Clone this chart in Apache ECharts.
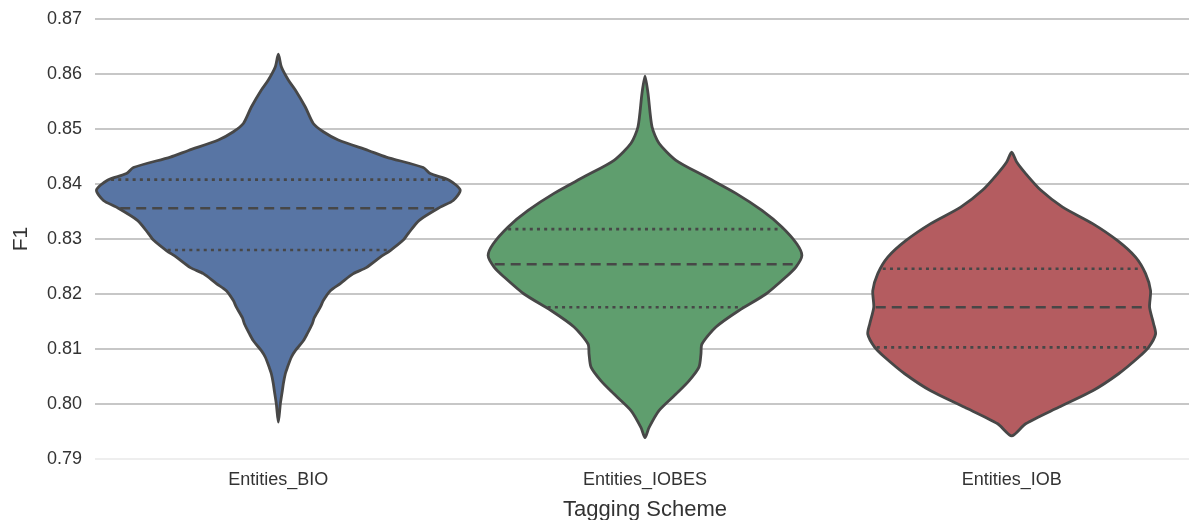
<!DOCTYPE html>
<html>
<head>
<meta charset="utf-8">
<script src="https://cdn.jsdelivr.net/npm/echarts@6/dist/echarts.min.js"></script>
<style>
html,body{margin:0;padding:0;background:#fff;}
#chart{width:1189px;height:520px;}
</style>
</head>
<body>
<div id="chart"></div>
<script>
// ---- data ----
const categories = ['Entities_BIO', 'Entities_IOBES', 'Entities_IOB'];
const yTicks = [0.79, 0.80, 0.81, 0.82, 0.83, 0.84, 0.85, 0.86, 0.87];

// Kernel density profiles: F1 values and relative density (BIO peak ≈ 182)
const bioF1 = [0.8636,0.8613,0.8589,0.8571,0.8540,0.8510,0.8495,0.8480,0.8461,0.8449,0.8430,0.8419,0.8407,0.8389,0.8370,0.8358,0.8334,0.8310,0.8298,0.8279,0.8267,0.8248,0.8237,0.8219,0.8206,0.8188,0.8176,0.8157,0.8146,0.8128,0.8115,0.8097,0.8085,0.8066,0.8055,0.8037,0.8024,0.8000,0.7967];
const bioDensity = [0,3,10,17,27,35,45,60,90,108,145,152,171,182,175,162,141,130,125,112,102,88,75,62,52,45,42,36,34,29,25,17,13,9,7,5,4,2,0];

const iobesF1 = [0.8596,0.8565,0.8504,0.8474,0.8443,0.8413,0.8383,0.8352,0.8322,0.8291,0.8270,0.8249,0.8231,0.8200,0.8170,0.8140,0.8109,0.8091,0.8067,0.8042,0.8018,0.7988,0.7957,0.7939];
const iobesDensity = [0,3,7,14,31,61,91,117,137,152,157,151,141,121,94,71,57,56,54,44,31,14,4,0];

const iobF1 = [0.8458,0.8440,0.8419,0.8389,0.8358,0.8328,0.8297,0.8267,0.8237,0.8206,0.8176,0.8146,0.8127,0.8103,0.8085,0.8055,0.8024,0.7994,0.7964,0.7942];
const iobDensity = [0,5,14,29,51,81,106,124,134,139,138,142,144,137,127,107,81,47,14,0];

// quartiles per category: [Q3, median, Q1]
const bioQuartiles = [0.8408, 0.8356, 0.8280];
const iobesQuartiles = [0.8318, 0.8254, 0.8176];
const iobQuartiles = [0.8246, 0.8176, 0.8103];

// ---- presentation ----
const profiles = [
  {f1: bioF1, dens: bioDensity, q: bioQuartiles},
  {f1: iobesF1, dens: iobesDensity, q: iobesQuartiles},
  {f1: iobF1, dens: iobDensity, q: iobQuartiles}
];
const fillColors = ['#5875a4', '#5f9e6e', '#b45c60'];
const edgeColor = '#474747';
const DENS_FULL = 182;      // density that maps to the widest half-width
const HALF_FRAC = 0.496;    // fraction of the category band for that half-width
const FONT = 'Liberation Sans, Arial, sans-serif';

function densAt(p, v) {
  for (let j = 0; j < p.f1.length - 1; j++) {
    const a = p.f1[j], b = p.f1[j + 1];
    if (v <= a && v >= b) {
      const t = (a - v) / (a - b);
      return p.dens[j] + t * (p.dens[j + 1] - p.dens[j]);
    }
  }
  return 0;
}

function renderItem(params, api) {
  const i = api.value(0);
  const p = profiles[i];
  const band = api.size([1, 0])[0];
  const halfMax = band * HALF_FRAC;
  const right = [], left = [];
  for (let j = 0; j < p.f1.length; j++) {
    const c = api.coord([i, p.f1[j]]);
    const hw = p.dens[j] / DENS_FULL * halfMax;
    right.push([c[0] + hw, c[1]]);
    left.push([c[0] - hw, c[1]]);
  }
  const outline = right.concat(left.slice(1, -1).reverse());
  const children = [{
    type: 'polygon',
    shape: {points: outline, smooth: 0.25},
    style: {fill: fillColors[i], stroke: edgeColor, lineWidth: 2.8, lineJoin: 'round'}
  }];
  p.q.forEach(function (v, k) {
    const c = api.coord([i, v]);
    const hw = densAt(p, v) / DENS_FULL * halfMax - 2;
    children.push({
      type: 'line',
      shape: {x1: c[0] - hw, y1: c[1], x2: c[0] + hw, y2: c[1]},
      style: {stroke: edgeColor, lineWidth: 2.6, lineDash: k === 1 ? [10, 6] : [3, 4.2], fill: null}
    });
  });
  return {type: 'group', children: children};
}

const chart = echarts.init(document.getElementById('chart'), null, {renderer: 'canvas'});
chart.setOption({
  backgroundColor: '#ffffff',
  animation: false,
  grid: {left: 95, top: 19, width: 1100, height: 440, outerBoundsMode: 'none', containLabel: false},
  xAxis: {
    type: 'category',
    data: categories,
    name: 'Tagging Scheme',
    nameLocation: 'middle',
    nameGap: 40,
    nameTextStyle: {fontSize: 22, color: '#333333', fontFamily: FONT},
    axisLine: {show: false},
    axisTick: {show: false},
    splitLine: {show: false},
    axisLabel: {fontSize: 18, color: '#333333', margin: 12, fontFamily: FONT}
  },
  yAxis: {
    type: 'value',
    min: yTicks[0],
    max: yTicks[yTicks.length - 1],
    interval: 0.01,
    name: 'F1',
    nameLocation: 'middle',
    nameRotate: 90,
    nameGap: 63,
    nameTextStyle: {fontSize: 21, color: '#333333', fontFamily: FONT},
    axisLine: {show: false},
    axisTick: {show: false},
    axisLabel: {
      fontSize: 18, color: '#333333', margin: 13,
      fontFamily: FONT,
      formatter: function (v) { return v.toFixed(2); }
    },
    splitLine: {show: true, lineStyle: {color: ['#e8e8e8', '#b5b5b5', '#b5b5b5', '#b5b5b5', '#b5b5b5', '#b5b5b5', '#b5b5b5', '#b5b5b5', '#b5b5b5'], width: 1.6}}
  },
  series: [{
    type: 'custom',
    renderItem: renderItem,
    encode: {x: 0, y: 1},
    data: categories.map(function (c, i) { return [i, profiles[i].q[1]]; }),
    clip: false
  }]
});
</script>
</body>
</html>
